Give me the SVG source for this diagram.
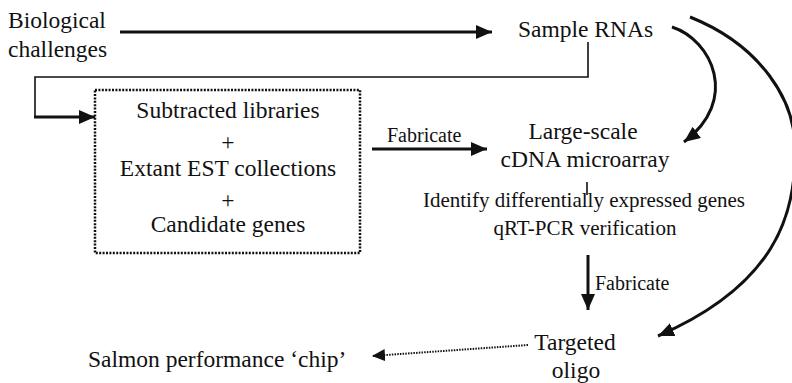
<svg xmlns="http://www.w3.org/2000/svg" width="792" height="383" viewBox="0 0 792 383">
<style>
.m{font-size:23.5px;}
.s{font-size:21px;}
.f{font-size:20px;}
.c{text-anchor:middle;}
.thick{fill:none;stroke:#111;stroke-width:3;}
.thin{fill:none;stroke:#111;stroke-width:1.6;}
.dot{fill:none;stroke:#111;stroke-width:2;stroke-dasharray:1.5 1.2;}
</style>
<defs>
<marker id="ah" markerUnits="userSpaceOnUse" markerWidth="18" markerHeight="14" refX="16" refY="7" orient="auto">
<path d="M0,0 L16,7 L0,14 z" fill="#111"/>
</marker>
<marker id="ahs" markerUnits="userSpaceOnUse" markerWidth="14" markerHeight="12" refX="13" refY="6" orient="auto">
<path d="M0,0 L13,6 L0,12 z" fill="#111"/>
</marker>
</defs>
<g font-family="'Liberation Serif', 'Times New Roman', 'DejaVu Serif', serif" fill="#111">
<g id="biological">
<text class="m" x="8" y="28">Biological</text>
<text class="m" x="8" y="57">challenges</text>
</g>
<g id="sample">
<text class="m" x="518" y="37">Sample RNAs</text>
</g>
<g id="libraries">
<rect x="95" y="90" width="265" height="163" fill="none" stroke="#111" stroke-width="2.5" stroke-dasharray="2 1.4"/>
<text class="m c" x="228" y="118">Subtracted libraries</text>
<text class="m c" x="228" y="150">+</text>
<text class="m c" x="228" y="176">Extant EST collections</text>
<text class="m c" x="228" y="208">+</text>
<text class="m c" x="228" y="232">Candidate genes</text>
</g>
<g id="microarray">
<text class="m c" x="583" y="139">Large-scale</text>
<text class="m c" x="585" y="167">cDNA microarray</text>
<text class="s c" x="584" y="207">Identify differentially expressed genes</text>
<text class="s c" x="585" y="235">qRT-PCR verification</text>
</g>
<g id="targeted">
<text class="m c" x="575" y="350">Targeted</text>
<text class="m c" x="576" y="378">oligo</text>
</g>
<g id="salmon">
<text class="m" x="88" y="367">Salmon performance ‘chip’</text>
</g>
<g id="connectors">
<line class="thick" x1="120" y1="32" x2="492" y2="32" marker-end="url(#ah)"/>
<polyline class="thin" points="588,42 588,77 35,77 35,117"/>
<line class="thick" x1="34" y1="117" x2="95" y2="117" marker-end="url(#ah)"/>
<line class="thick" x1="372" y1="149" x2="487" y2="149" marker-end="url(#ah)"/>
<text class="f" x="387" y="142">Fabricate</text>
<line class="thin" x1="587" y1="182" x2="587" y2="195"/>
<line class="thick" x1="588" y1="255" x2="588" y2="310" stroke-width="2.5" marker-end="url(#ah)"/>
<text class="f" x="595" y="290">Fabricate</text>
<path class="thick" d="M672,27 C712,40 740,100 684,142" marker-end="url(#ah)"/>
<path class="thick" d="M690,17 C760,45 796,100 795,150 C796,215 775,285 658,336" marker-end="url(#ah)"/>
<line class="dot" x1="528" y1="345" x2="372" y2="356" marker-end="url(#ahs)"/>
</g>
</g>
</svg>
